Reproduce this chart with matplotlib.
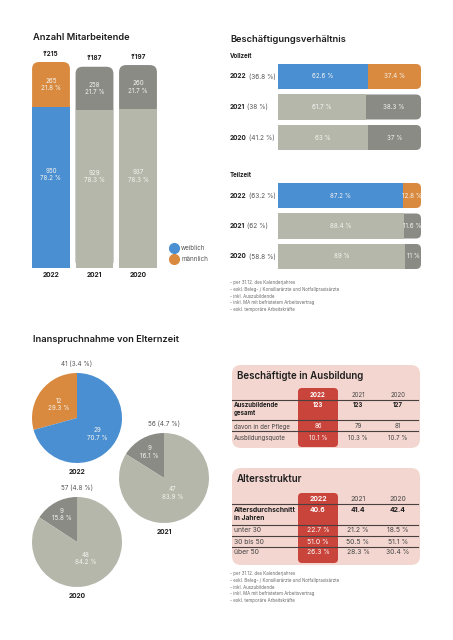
import math
import matplotlib.pyplot as plt
from matplotlib.patches import FancyBboxPatch
from matplotlib.lines import Line2D
from matplotlib.transforms import blended_transform_factory

plt.rcParams['font.family'] = ['Inter', 'DejaVu Sans']

# ---- data ----
years = ["2022", "2021", "2020"]

staff_female = [950, 929, 937]
staff_male = [265, 258, 260]
staff_female_pct = [78.2, 78.3, 78.3]
staff_male_pct = [21.8, 21.7, 21.7]

fulltime_share = [36.8, 38, 41.2]
fulltime_female = [62.6, 61.7, 63]
fulltime_male = [37.4, 38.3, 37]
parttime_share = [63.2, 62, 58.8]
parttime_female = [87.2, 88.4, 89]
parttime_male = [12.8, 11.6, 11]

leave_female = [29, 47, 48]
leave_male = [12, 9, 9]
leave_share = [3.4, 4.7, 4.8]

trainee_rows = ["Auszubildende\ngesamt", "davon in der Pflege", "Ausbildungsquote"]
trainee_total = [123, 123, 127]
trainee_care = [86, 79, 81]
trainee_rate = [10.1, 10.3, 10.7]

age_rows = ["Altersdurchschnitt\nin Jahren", "unter 30", "30 bis 50", "über 50"]
age_mean = [40.6, 41.4, 42.4]
age_under30 = [22.7, 21.2, 18.5]
age_30to50 = [51.0, 50.5, 51.1]
age_over50 = [26.3, 28.3, 30.4]

notes = ["- per 31.12. des Kalenderjahres",
         "- exkl. Beleg- / Konsiliarärzte und Notfallpraxisärzte",
         "- inkl. Auszubildende",
         "- inkl. MA mit befristetem Arbeitsvertrag",
         "- exkl. temporäre Arbeitskräfte"]

# ---- style ----
BLUE = "#4A8FD1"
ORANGE = "#D98A3F"
LIGHT = "#B6B7AB"
DARK = "#8A8B85"
PINK = "#F3D6CF"
RED = "#C9443B"
INK = "#1E1E1E"
GREY_TXT = "#555555"
SOFT = "#F4F4F0"
TITLE_SIZE = 6.7

W, H = 453, 640
fig = plt.figure(figsize=(W / 100, H / 100), dpi=100)


def px_axes(x0, y0, x1, y1, zorder=1):
    ax = fig.add_axes([x0 / W, 1 - y1 / H, (x1 - x0) / W, (y1 - y0) / H], zorder=zorder)
    ax.set_axis_off()
    return ax


def fig_text(x, y, s, **kw):
    kw.setdefault("color", INK)
    fig.text(x / W, 1 - y / H, s, **kw)


def round_off(ax, rect, r_px):
    # swap a bar rectangle for a rounded box with the same extent
    x0, x1 = ax.get_xlim()
    y0, y1 = ax.get_ylim()
    sx = ax.bbox.width / abs(x1 - x0)
    sy = ax.bbox.height / abs(y1 - y0)
    box = FancyBboxPatch(rect.get_xy(), rect.get_width(), rect.get_height(),
                         boxstyle=f"round,pad=0,rounding_size={r_px / sx}",
                         mutation_aspect=sx / sy, fc=rect.get_facecolor(),
                         ec="none", zorder=rect.get_zorder())
    rect.remove()
    ax.add_patch(box)


def pct(v):
    return f"{v:g} %"


# ---- Anzahl Mitarbeitende ----
fig_text(33, 38, "Anzahl Mitarbeitende", fontsize=TITLE_SIZE, weight="semibold", va="center")

totals = [f + m for f, m in zip(staff_female, staff_male)]
ax = px_axes(29.25, 62, 159.75, 268)
ax.set_xlim(-0.5, 2.5)
ax.set_ylim(0, max(totals))
xs = list(range(len(years)))
top = ax.bar(xs, totals, width=0.87, color=[ORANGE, DARK, DARK], zorder=2)
low = ax.bar(xs, staff_female, width=0.87, color=[BLUE, LIGHT, LIGHT], zorder=3)
for r in top:
    round_off(ax, r, 7)
for i in xs:
    ax.text(i, staff_female[i] + staff_male[i] / 2, f"{staff_male[i]}\n{staff_male_pct[i]} %",
            ha="center", va="center", fontsize=4.5, color=SOFT, linespacing=1.3, zorder=5)
    ax.text(i, staff_female[i] * 0.58, f"{staff_female[i]}\n{staff_female_pct[i]} %",
            ha="center", va="center", fontsize=4.5, color=SOFT, linespacing=1.3, zorder=5)
    ax.annotate(f"{totals[i]:,}".replace(",", "\u2019"), (i, totals[i]), xytext=(0, 6),
                textcoords="offset points", ha="center", va="center",
                fontsize=4.6, weight="bold", color=INK)
    ax.annotate(years[i], (i, 0), xytext=(0, -5), textcoords="offset points",
                ha="center", va="center", fontsize=4.8, weight="bold", color=INK)

handles = [Line2D([], [], ls="", marker="o", color=BLUE, markersize=7),
           Line2D([], [], ls="", marker="o", color=ORANGE, markersize=7)]
fig.legend(handles, ["weiblich", "männlich"], loc="upper left",
           bbox_to_anchor=(165 / W, 1 - 242 / H), frameon=False, fontsize=4.5,
           handletextpad=0.1, labelspacing=0.8, borderpad=0, labelcolor=GREY_TXT)

# ---- Beschäftigungsverhältnis ----
fig_text(230, 39, "Beschäftigungsverhältnis", fontsize=TITLE_SIZE, weight="semibold", va="center")


def hbar_block(y0, title, female, male, share):
    fig_text(230, y0 - 5.5, title, fontsize=4.4, weight="bold", va="center")
    ax = px_axes(278, y0, 421, y0 + 91.5)
    ax.set_xlim(0, 100)
    ax.set_ylim(2.5, -0.5)
    rows = list(range(len(years)))
    full = ax.barh(rows, [f + m for f, m in zip(female, male)], height=0.82,
                   color=[ORANGE, DARK, DARK], zorder=2)
    fem = ax.barh(rows, female, height=0.82, color=[BLUE, LIGHT, LIGHT], zorder=3)
    for r in full:
        round_off(ax, r, 5)
    ax.bar_label(fem, labels=[pct(v) for v in female], label_type="center",
                 fontsize=4.5, color=SOFT, zorder=5)
    tr = blended_transform_factory(fig.transFigure, ax.transData)
    for i in rows:
        ax.text(female[i] + male[i] / 2, i, pct(male[i]), ha="center", va="center",
                fontsize=4.5, color=SOFT, zorder=5)
        t = ax.text(230 / W, i, years[i], transform=tr, ha="left", va="center",
                    fontsize=4.7, weight="bold", color=INK)
        ax.annotate(f" ({pct(share[i])})", xy=(1, 0.5), xycoords=t, ha="left", va="center",
                    fontsize=4.7, color=GREY_TXT)


hbar_block(61.25, "Vollzeit", fulltime_female, fulltime_male, fulltime_share)
hbar_block(180.25, "Teilzeit", parttime_female, parttime_male, parttime_share)

fig_text(230, 280, "\n".join(notes), fontsize=3.2, va="top", linespacing=1.45, color="#666666")

# ---- Inanspruchnahme von Elternzeit ----
fig_text(33, 340, "Inanspruchnahme von Elternzeit", fontsize=TITLE_SIZE, weight="semibold", va="center")

pie_centres = [(77, 418), (164, 478), (77, 542)]
pie_colors = [[ORANGE, BLUE], [DARK, LIGHT], [DARK, LIGHT]]
pie_dist = [[0.5, 0.58], [0.66, 0.38], [0.7, 0.42]]
for k, (cx, cy) in enumerate(pie_centres):
    ax = px_axes(cx - 45, cy - 45, cx + 45, cy + 45)
    vals = [leave_male[k], leave_female[k]]
    total = sum(vals)
    wedges, _, autos = ax.pie(vals, colors=pie_colors[k], startangle=90, counterclock=True,
                              autopct=lambda p, t=total: f"{round(p * t / 100)}\n{p:.1f} %",
                              textprops=dict(fontsize=4.5, color=SOFT, linespacing=1.3))
    for a, w, d in zip(autos, wedges, pie_dist[k]):
        ang = math.radians((w.theta1 + w.theta2) / 2)
        a.set_position((d * math.cos(ang), d * math.sin(ang)))
    ax.set_xlim(-1, 1)
    ax.set_ylim(-1, 1)
    ax.annotate(f"{total} ({pct(leave_share[k])})", (0, 1), xytext=(0, 7),
                textcoords="offset points", ha="center", va="center", fontsize=4.6, color=GREY_TXT)
    ax.annotate(years[k], (0, -1), xytext=(0, -6.5), textcoords="offset points",
                ha="center", va="center", fontsize=4.8, weight="bold", color=INK)


# ---- tables ----
def table_block(y_top, height, title, row_labels, columns, fmts, label_y, sep_y,
                head_y, red_span, fontsize):
    ax = px_axes(232, y_top, 420, y_top + height)
    ax.set_xlim(-2.15, 2.55)
    ax.set_ylim(height, 0)
    bg = ax.bar(0.2, height, bottom=0, width=4.7, color=PINK, zorder=0)
    round_off(ax, bg[0], 9)
    ax.text(-2.02, 11, title, fontsize=TITLE_SIZE + 0.3, weight="semibold", va="center",
            ha="left", color=INK)
    hi = ax.bar(0, red_span[1] - red_span[0], bottom=red_span[0], width=1.0, color=RED, zorder=1)
    round_off(ax, hi[0], 4)
    for j, yr in enumerate(years):
        ax.text(j, head_y, yr, ha="center", va="center", fontsize=fontsize,
                color="white" if j == 0 else "#444444", weight="bold" if j == 0 else "normal",
                zorder=3)
    for y in sep_y:
        ax.axhline(y, xmin=0, xmax=(418 - 232) / 188, color="#4A4040", lw=0.8, zorder=2)
    for r, lab in enumerate(row_labels):
        strong = r == 0
        ax.text(-2.1, label_y[r], lab, ha="left", va="top", fontsize=fontsize,
                weight="bold" if strong else "normal", color=INK if strong else "#444444",
                linespacing=1.35, zorder=3)
        for j in range(len(years)):
            ax.text(j, label_y[r], fmts[r](columns[r][j]), ha="center", va="top",
                    fontsize=fontsize, weight="bold" if strong else "normal",
                    color="white" if j == 0 else (INK if strong else "#444444"), zorder=3)


table_block(365, 83, "Beschäftigte in Ausbildung", trainee_rows,
            [trainee_total, trainee_care, trainee_rate],
            [str, str, lambda v: f"{v:.1f} %"],
            label_y=[37.5, 58.5, 70], sep_y=[35, 55, 66], head_y=30,
            red_span=(23, 82), fontsize=4.4)

table_block(468, 97, "Altersstruktur", age_rows,
            [age_mean, age_under30, age_30to50, age_over50],
            [lambda v: f"{v:.1f}"] + [lambda v: f"{v:.1f} %"] * 3,
            label_y=[39.5, 59.5, 70.5, 81.5], sep_y=[36, 57, 68, 79], head_y=31,
            red_span=(25, 95), fontsize=4.9)

fig_text(230, 571, "\n".join(notes), fontsize=3.2, va="top", linespacing=1.45, color="#666666")

fig.savefig("out.png", dpi=100)
